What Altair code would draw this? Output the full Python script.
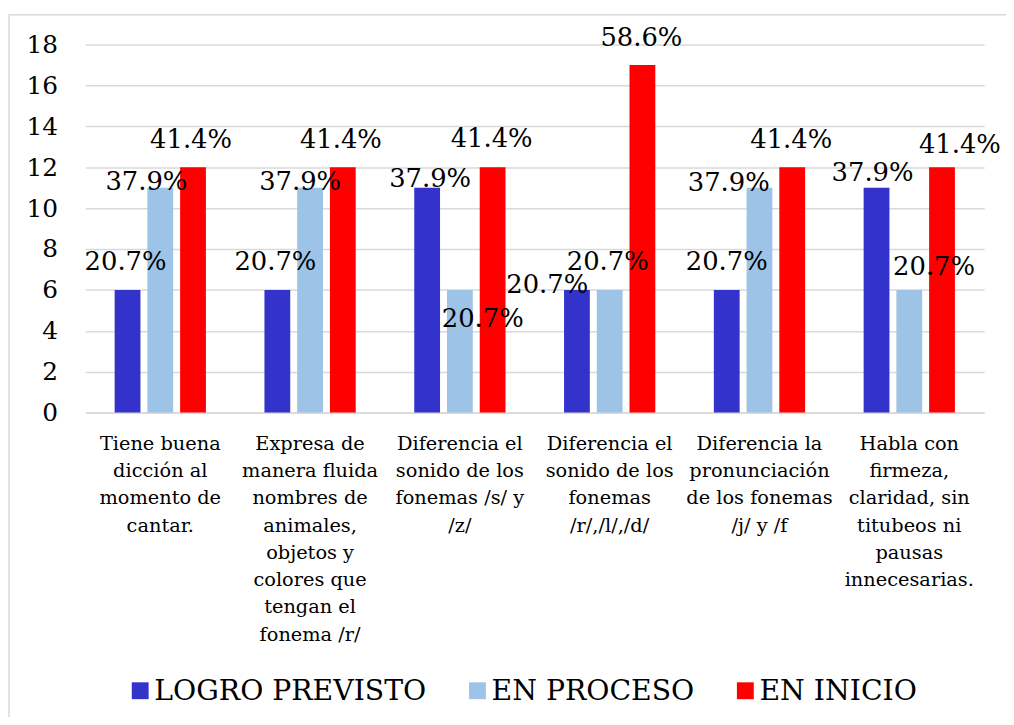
import altair as alt
import pandas as pd

categories = [
    "Tiene buena\ndicción al\nmomento de\ncantar.",
    "Expresa de\nmanera fluida\nnombres de\nanimales,\nobjetos y\ncolores que\ntengan el\nfonema /r/",
    "Diferencia el\nsonido de los\nfonemas /s/ y\n/z/",
    "Diferencia el\nsonido de los\nfonemas\n/r/,/l/,/d/",
    "Diferencia la\npronunciación\nde los fonemas\n/j/ y /f",
    "Habla con\nfirmeza,\nclaridad, sin\ntitubeos ni\npausas\ninnecesarias.",
]
series = ["LOGRO PREVISTO", "EN PROCESO", "EN INICIO"]
colors = ["#3333CC", "#9DC3E6", "#FF0000"]

logro = [6, 6, 11, 6, 6, 11]
proceso = [11, 11, 6, 6, 11, 6]
inicio = [12, 12, 12, 17, 12, 12]

logro_pct = ["20.7%", "20.7%", "37.9%", "20.7%", "20.7%", "37.9%"]
proceso_pct = ["37.9%", "37.9%", "20.7%", "20.7%", "37.9%", "20.7%"]
inicio_pct = ["41.4%", "41.4%", "41.4%", "58.6%", "41.4%", "41.4%"]

# label nudges (pixels) relative to the top-centre of each bar
logro_dx = [-2, -2, 3, -30, 0, -4]
logro_dy = [-28, -28, -9, -5, -28, -15]
proceso_dx = [-14, -10, 23, -2, -31, 25]
proceso_dy = [-6, -6, 29, -28, -5, -23]
inicio_dx = [-2, -2, -1, -1, -1, 18]
inicio_dy = [-27, -27, -28, -27, -27, -22]

rows = []
for s, vals, pcts, dxs, dys in [
    (series[0], logro, logro_pct, logro_dx, logro_dy),
    (series[1], proceso, proceso_pct, proceso_dx, proceso_dy),
    (series[2], inicio, inicio_pct, inicio_dx, inicio_dy),
]:
    for c, v, p, dx, dy in zip(categories, vals, pcts, dxs, dys):
        rows.append({"cat": c, "serie": s, "valor": v, "pct": p, "ldx": dx, "ldy": dy})
df = pd.DataFrame(rows)

FONT = "DejaVu Serif"

x_enc = alt.X(
    "cat:N",
    sort=categories,
    scale=alt.Scale(paddingInner=0, paddingOuter=0),
    axis=alt.Axis(
        title=None,
        labelExpr="split(datum.value, '\\n')",
        labelAngle=0,
        labelAlign="center",
        labelBaseline="top",
        labelFont=FONT,
        labelFontSize=19.5,
        labelLineHeight=27.5,
        labelColor="black",
        labelLimit=0,
        labelPadding=22,
        ticks=False,
        tickSize=0,
        domain=True,
        domainColor="#d9d9d9",
        domainWidth=1.5,
        grid=False,
    ),
)
xoff_enc = alt.XOffset(
    "serie:N", sort=series, scale=alt.Scale(domain=series, paddingInner=0.212, paddingOuter=0.894)
)
y_enc = alt.Y(
    "valor:Q",
    scale=alt.Scale(domain=[0, 18], nice=False),
    axis=alt.Axis(
        title=None,
        values=list(range(0, 19, 2)),
        labelFont=FONT,
        labelFontSize=25,
        labelColor="black",
        labelPadding=28,
        ticks=False,
        tickSize=0,
        domain=False,
        grid=True,
        gridColor="#d9d9d9",
        gridWidth=1.5,
    ),
)

frame = alt.Chart(alt.Data(values=[{"a": 1}])).mark_rect(
    fill=None, stroke="#d9d9d9", strokeWidth=1.5
).encode(
    x=alt.value(-77), x2=alt.value(960), y=alt.value(-30), y2=alt.value(720)
)

bars = alt.Chart(df).mark_bar().encode(
    x=x_enc,
    xOffset=xoff_enc,
    y=y_enc,
    color=alt.Color(
        "serie:N",
        scale=alt.Scale(domain=series, range=colors),
        legend=alt.Legend(
            title=None,
            orient="none",
            legendX=41,
            legendY=637,
            direction="horizontal",
            columns=3,
            symbolType="square",
            symbolSize=289,
            symbolStrokeWidth=0,
            symbolOpacity=1,
            labelFont=FONT,
            labelFontSize=28.5,
            labelColor="black",
            labelOffset=0,
            labelLimit=0,
            columnPadding=37,
            padding=0,
        ),
    ),
)

labels = alt.Chart(df).mark_text(
    font=FONT,
    fontSize=26,
    color="black",
    baseline="middle",
    align="center",
    dx={"expr": "datum.ldx"},
    dy={"expr": "datum.ldy"},
).encode(
    x=x_enc,
    xOffset=xoff_enc,
    y=y_enc,
    text="pct:N",
)

chart = alt.layer(frame, bars, labels).properties(
    width=906,
    height=371,
    autosize=alt.AutoSizeParams(type="none"),
    padding={"left": 78, "top": 34, "right": 22, "bottom": 304},
).configure_view(stroke=None)

chart.save("out.html", embed_options={"renderer": "svg", "actions": False})
